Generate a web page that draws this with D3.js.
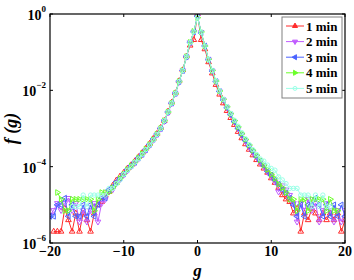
<!DOCTYPE html>
<html>
<head>
<meta charset="utf-8">
<script src="https://cdn.jsdelivr.net/npm/d3@7"></script>
<style>
  body { margin:0; background:#fff; }
  text { font-family: "Liberation Serif", "DejaVu Serif", serif; font-weight:bold; }
</style>
</head>
<body>
<div id="chart"></div>
<script>
// bin centres g
var gVals = [-20,-19.5,-19,-18.5,-18,-17.5,-17,-16.5,-16,-15.5,-15,-14.5,-14,-13.5,-13,-12.5,-12,-11.5,-11,-10.5,
  -10,-9.5,-9,-8.5,-8,-7.5,-7,-6.5,-6,-5.5,-5,-4.5,-4,-3.5,-3,-2.5,-2,-1.5,-1,-0.5,
  0,0.5,1,1.5,2,2.5,3,3.5,4,4.5,5,5.5,6,6.5,7,7.5,8,8.5,9,9.5,
  10,10.5,11,11.5,12,12.5,13,13.5,14,14.5,15,15.5,16,16.5,17,17.5,18,18.5,19,19.5,20];

var names = ["1 min","2 min","3 min","4 min","5 min"];

// f(g), null where the bin was empty
var f1 = [null,2e-6,2e-6,2e-6,8e-6,4e-6,2e-6,6e-6,2e-6,6e-6,4e-6,2e-6,6e-6,1e-5,1.2e-5,1.8e-5,2.2e-5,3.2e-5,4.4e-5,5.6e-5,
  7e-5,9e-5,1.1e-4,1.4e-4,1.8e-4,2.3e-4,3e-4,4e-4,5.4e-4,7.3e-4,1.05e-3,1.6e-3,2.8e-3,4.8e-3,8.5e-3,1.75e-2,3.4e-2,7.8e-2,1.5e-1,2.1e-1,
  1.0,2.1e-1,1.2e-1,5.5e-2,2.8e-2,1.4e-2,7.8e-3,4.6e-3,2.9e-3,1.9e-3,1.25e-3,8.2e-4,5.6e-4,3.9e-4,2.8e-4,2e-4,1.5e-4,1.15e-4,9e-5,7e-5,
  5e-5,3.8e-5,2.8e-5,1.8e-5,1.4e-5,1.2e-5,6e-6,8e-6,2e-6,6e-6,4e-6,8e-6,6e-6,4e-6,6e-6,4e-6,6e-6,4e-6,6e-6,2e-6,4e-6];
var f2 = [5.4e-6,7.2e-6,1.1e-5,7.2e-6,1.1e-5,1.5e-5,7.2e-6,1.1e-5,3.6e-6,7.2e-6,3.6e-6,7.2e-6,1.1e-5,3.6e-6,1.1e-5,1.4e-5,2.2e-5,2.5e-5,3.6e-5,4.7e-5,
  6.1e-5,7.9e-5,1e-4,1.25e-4,1.6e-4,2.05e-4,2.7e-4,3.6e-4,5e-4,6.9e-4,9.8e-4,1.55e-3,2.6e-3,4.5e-3,8.2e-3,1.65e-2,3.3e-2,7.5e-2,1.8e-1,3.4e-1,
  8.5e-1,3.3e-1,1.4e-1,6.4e-2,3.2e-2,1.7e-2,9.3e-3,5.6e-3,3.5e-3,2.3e-3,1.5e-3,1e-3,6.6e-4,4.6e-4,3.3e-4,2.4e-4,1.8e-4,1.3e-4,1e-4,7.2e-5,
  5.4e-5,4e-5,2.2e-5,3.2e-5,2.5e-5,1.8e-5,1.1e-5,3.6e-6,1.1e-5,7.2e-6,1.4e-5,7.2e-6,1.1e-5,3.6e-6,7.2e-6,1.1e-5,7.2e-6,3.6e-6,7.2e-6,3.6e-6,7.2e-6];
var f3 = [5e-6,5e-6,1e-5,1e-5,1.5e-5,5e-6,1e-5,5e-6,5e-6,1e-5,5e-6,1e-5,5e-6,1e-5,1.5e-5,1.5e-5,2.5e-5,3e-5,4e-5,5e-5,
  6.5e-5,8.5e-5,1.05e-4,1.3e-4,1.7e-4,2.1e-4,2.8e-4,3.8e-4,5.2e-4,7.1e-4,1e-3,1.6e-3,2.7e-3,4.6e-3,8.3e-3,1.7e-2,3.3e-2,7.6e-2,1.8e-1,3.4e-1,
  8.7e-1,3.2e-1,1.45e-1,6.3e-2,3.2e-2,1.7e-2,9.3e-3,5.6e-3,3.5e-3,2.3e-3,1.5e-3,1e-3,6.8e-4,4.8e-4,3.4e-4,2.5e-4,1.8e-4,1.4e-4,1.05e-4,7.5e-5,
  6e-5,4.5e-5,3.5e-5,2.5e-5,2e-5,1.5e-5,1e-5,5e-6,1e-5,5e-6,1e-5,1e-5,1.5e-5,1e-5,5e-6,1e-5,5e-6,1e-5,5e-6,1e-5,5e-6];
var f4 = [null,null,2.1e-5,1.4e-5,7e-6,7e-6,1.4e-5,1.4e-5,1.4e-5,1.4e-5,1.4e-5,1.4e-5,7e-6,1.4e-5,2.1e-5,2.1e-5,2.1e-5,2.8e-5,3.5e-5,4.9e-5,
  6.3e-5,8.4e-5,1.05e-4,1.3e-4,1.7e-4,2.2e-4,2.9e-4,3.8e-4,5.1e-4,7.1e-4,1e-3,1.6e-3,2.7e-3,4.6e-3,8.3e-3,1.7e-2,3.3e-2,7.6e-2,1.8e-1,3.5e-1,
  8e-1,3.4e-1,1.45e-1,6.5e-2,3.3e-2,1.75e-2,9.6e-3,5.8e-3,3.7e-3,2.45e-3,1.6e-3,1.1e-3,7.4e-4,5.2e-4,3.7e-4,2.7e-4,2e-4,1.5e-4,1.1e-4,8.4e-5,
  6.3e-5,4.9e-5,3.5e-5,2.8e-5,2.1e-5,1.4e-5,1.4e-5,7e-6,1.4e-5,1.4e-5,7e-6,1.4e-5,1.4e-5,1.4e-5,1.4e-5,7e-6,1.4e-5,7e-6,7e-6,null,null];
var f5 = [null,null,null,null,null,null,9e-6,9e-6,9e-6,1.8e-5,9e-6,1.8e-5,1.8e-5,1.8e-5,1.8e-5,1.8e-5,2.7e-5,2.7e-5,3.6e-5,4.5e-5,
  6.3e-5,8.1e-5,9.9e-5,1.3e-4,1.6e-4,2.1e-4,2.8e-4,3.7e-4,5e-4,7e-4,1e-3,1.6e-3,2.7e-3,4.6e-3,8.3e-3,1.7e-2,3.3e-2,7.6e-2,1.8e-1,3.4e-1,
  8.2e-1,3.3e-1,1.45e-1,6.4e-2,3.3e-2,1.75e-2,9.6e-3,5.8e-3,3.7e-3,2.5e-3,1.65e-3,1.15e-3,7.8e-4,5.4e-4,3.8e-4,2.8e-4,2.1e-4,1.6e-4,1.4e-4,1.1e-4,
  9e-5,8.1e-5,5.4e-5,4.5e-5,3.6e-5,2.7e-5,2.7e-5,2.7e-5,1.8e-5,1.8e-5,1.8e-5,9e-6,1.8e-5,9e-6,1.8e-5,9e-6,9e-6,null,null,null,null];

var xTicks = [-20,-10,0,10,20];
var yTicks = [1,1e-2,1e-4,1e-6];
var yTickExp = ["0","\u22122","\u22124","\u22126"];

var colors = ["#ff2b2b","#c05cff","#4a63ff","#6cff2a","#9cffe8"];
var markers = ["up","down","left","right","circle"];
var series = [f1,f2,f3,f4,f5];

var W = 354, H = 280;
var m = {left:50, right:9, top:14, bottom:37};

var svg = d3.select("#chart").append("svg").attr("width",W).attr("height",H);

var x = d3.scaleLinear().domain([-20,20]).range([m.left, W-m.right]);
var y = d3.scaleLog().domain([1e-6,1]).range([H-m.bottom, m.top]);

var plot = svg.append("g");
svg.append("clipPath").attr("id","clip").append("rect")
  .attr("x",m.left).attr("y",m.top).attr("width",W-m.left-m.right).attr("height",H-m.top-m.bottom);
plot.attr("clip-path","url(#clip)");

function markerPath(kind, s) {
  if (kind=="circle") return d3.symbol().type(d3.symbolCircle).size(s*s*0.6)();
  return d3.symbol().type(d3.symbolTriangle).size(s*s*0.55)();
}
var rot = {up:0, down:180, left:-90, right:90, circle:0};

var line = d3.line()
  .defined(function(d){return d.v!=null})
  .x(function(d){return x(d.g)})
  .y(function(d){return y(d.v)});

series.forEach(function(s, i){
  var pts = gVals.map(function(g,j){return {g:g, v:s[j]}});
  plot.append("path").datum(pts)
    .attr("d", line)
    .attr("fill","none")
    .attr("stroke", colors[i])
    .attr("stroke-width", 1);
  plot.selectAll(".m"+i).data(pts.filter(function(d){return d.v!=null}))
    .enter().append("path")
    .attr("d", markerPath(markers[i], 5))
    .attr("transform", function(d){return "translate("+x(d.g)+","+y(d.v)+") rotate("+rot[markers[i]]+")"})
    .attr("fill","none")
    .attr("stroke", colors[i])
    .attr("stroke-width", 1);
});

// box and ticks
var x0 = m.left, x1 = W-m.right, y0 = m.top, y1 = H-m.bottom;
svg.append("rect").attr("x",x0).attr("y",y0).attr("width",x1-x0).attr("height",y1-y0)
  .attr("fill","none").attr("stroke","#000").attr("stroke-width",1.2);

xTicks.forEach(function(t){
  svg.append("line").attr("x1",x(t)).attr("x2",x(t)).attr("y1",y1).attr("y2",y1-3).attr("stroke","#000");
  svg.append("line").attr("x1",x(t)).attr("x2",x(t)).attr("y1",y0).attr("y2",y0+3).attr("stroke","#000");
  svg.append("text").attr("x",x(t)).attr("y",y1+13).attr("text-anchor","middle")
    .style("font-size","14px").text(t<0 ? "\u2212"+Math.abs(t) : t);
});

yTicks.forEach(function(t,i){
  svg.append("line").attr("x1",x0).attr("x2",x0+3).attr("y1",y(t)).attr("y2",y(t)).attr("stroke","#000");
  svg.append("line").attr("x1",x1).attr("x2",x1-3).attr("y1",y(t)).attr("y2",y(t)).attr("stroke","#000");
  var tx = svg.append("text").attr("x",x0-4).attr("y",y(t)+6).attr("text-anchor","end").style("font-size","14px");
  tx.append("tspan").text("10");
  tx.append("tspan").attr("dy",-8).style("font-size","9px").text(yTickExp[i]);
});

// axis labels
svg.append("text").attr("x",x(0)).attr("y",H-4).attr("text-anchor","middle")
  .style("font-size","17px").style("font-style","italic").text("g");
svg.append("text").attr("transform","translate(17,"+((y0+y1)/2)+") rotate(-90)")
  .attr("text-anchor","middle").style("font-size","18px").style("font-style","italic").text("f (g)");

// legend
var lg = svg.append("g").attr("transform","translate(282,17)");
lg.append("rect").attr("width",60).attr("height",81).attr("fill","#fff")
  .attr("stroke","#808080").attr("stroke-width",1);
names.forEach(function(n,i){
  var yy = 9 + i*15.6;
  lg.append("line").attr("x1",4).attr("x2",22).attr("y1",yy).attr("y2",yy)
    .attr("stroke",colors[i]).attr("stroke-width",1);
  lg.append("path").attr("d", markerPath(markers[i],4.5))
    .attr("transform","translate(13,"+yy+") rotate("+rot[markers[i]]+")")
    .attr("fill", markers[i]=="circle" ? "none" : colors[i]).attr("stroke",colors[i]);
  lg.append("text").attr("x",24).attr("y",yy+4.5).style("font-size","13px").text(n);
});
</script>
</body>
</html>
